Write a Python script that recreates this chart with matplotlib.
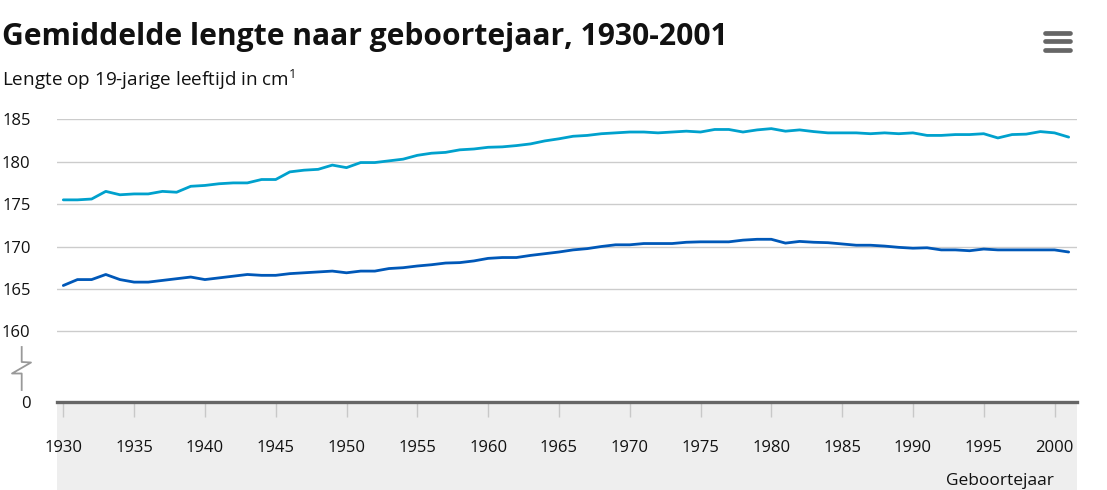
import matplotlib
matplotlib.use("Agg")
import matplotlib.pyplot as plt
from matplotlib.lines import Line2D
from matplotlib.patches import Rectangle

plt.rcParams['font.family'] = ['Open Sans', 'DejaVu Sans']
plt.rcParams['mathtext.default'] = 'regular'

years = list(range(1930, 2002))

# lengte op 19-jarige leeftijd (cm)
mannen = [
    175.5, 175.5, 175.6, 176.5, 176.1, 176.2, 176.2, 176.5, 176.4, 177.1,
    177.2, 177.4, 177.5, 177.5, 177.9, 177.9, 178.8, 179.0, 179.1, 179.6,
    179.3, 179.9, 179.9, 180.1, 180.3, 180.75, 181.0, 181.1, 181.4, 181.5,
    181.7, 181.75, 181.9, 182.1, 182.45, 182.7, 183.0, 183.1, 183.3, 183.4,
    183.5, 183.5, 183.4, 183.5, 183.6, 183.5, 183.8, 183.8, 183.5, 183.75,
    183.9, 183.6, 183.75, 183.55, 183.4, 183.4, 183.4, 183.3, 183.4, 183.3,
    183.4, 183.1, 183.1, 183.2, 183.2, 183.3, 182.8, 183.2, 183.25, 183.55,
    183.4, 182.9,
]
vrouwen = [
    165.4, 166.1, 166.1, 166.7, 166.1, 165.8, 165.8, 166.0, 166.2, 166.4,
    166.1, 166.3, 166.5, 166.7, 166.6, 166.6, 166.8, 166.9, 167.0, 167.1,
    166.9, 167.1, 167.1, 167.4, 167.5, 167.7, 167.85, 168.05, 168.1, 168.3,
    168.6, 168.7, 168.7, 168.95, 169.15, 169.35, 169.6, 169.75, 170.0, 170.2,
    170.2, 170.35, 170.35, 170.35, 170.5, 170.55, 170.55, 170.55, 170.75, 170.85,
    170.85, 170.4, 170.6, 170.5, 170.45, 170.3, 170.15, 170.15, 170.05, 169.9,
    169.8, 169.85, 169.6, 169.6, 169.5, 169.7, 169.6, 169.6, 169.6, 169.6,
    169.6, 169.35,
]

y_ticks = [160, 165, 170, 175, 180, 185]
x_ticks = list(range(1930, 2001, 5))

W, H = 1107, 490
fig = plt.figure(figsize=(W / 100, H / 100), dpi=100)

# grijze band onder de x-as
fig.patches.append(Rectangle((57 / W, 0), 1020 / W, 88 / H, transform=fig.transFigure,
                             facecolor='#eeeeee', edgecolor='none', zorder=-1))

ax = fig.add_axes([57 / W, 88 / H, 1020 / W, (402 - 119.3) / H])
ax.set_facecolor('none')
ax.set_zorder(1)

ax.plot(years, mannen, color='#00a1cd', lw=2.0, solid_capstyle='round', zorder=3)
ax.plot(years, vrouwen, color='#0058b8', lw=2.0, solid_capstyle='round', zorder=3)

# y-as met breuk: 0 komt direct onder 160
ybottom = 160 - (402 - 331.3) / 8.48
ax.set_ylim(ybottom, 185)
ax.set_xlim(1930 - 6.3 / 14.16, 1930 + 1013.7 / 14.16)

for v in y_ticks:
    ax.axhline(v, color='#cccccc', lw=1.0, zorder=1)

ax.set_yticks(y_ticks + [ybottom])
ax.set_yticklabels([str(v) for v in y_ticks] + ['0'])
ax.tick_params(axis='y', length=0, pad=19, labelsize=12, labelcolor='#111111')

ax.set_xticks(x_ticks)
ax.tick_params(axis='x', length=11, width=1, color='#c8c8c8', pad=16,
               labelsize=12, labelcolor='#111111')

for s in ['top', 'right', 'left']:
    ax.spines[s].set_visible(False)
ax.spines['bottom'].set_color('#666666')
ax.spines['bottom'].set_linewidth(2.4)
ax.spines['bottom'].set_zorder(4)

# asbreuk-teken
bx = [21.7, 21.7, 31, 12, 21.7, 21.7]
by = [347, 362, 362.5, 373.5, 373.5, 390]
fig.add_artist(Line2D([x / W for x in bx], [1 - y / H for y in by], transform=fig.transFigure,
                      color='#999999', lw=1.3))

# menu-icoon
for yy in [33, 41.5, 50]:
    fig.add_artist(Line2D([1044.5 / W, 1070 / W], [1 - yy / H] * 2, transform=fig.transFigure,
                          color='#666666', lw=3.4, solid_capstyle='round'))

fig.text(2 / W, 1 - 37 / H, 'Gemiddelde lengte naar geboortejaar, 1930-2001',
         fontsize=21.6, fontweight='bold', color='#111111', va='center', ha='left')
fig.text(2 / W, 1 - 80 / H, 'Lengte op 19-jarige leeftijd in cm$^{1}$',
         fontsize=13.6, color='#111111', va='center', ha='left')
fig.text(1054 / W, 1 - 481 / H, 'Geboortejaar', fontsize=12.5, color='#111111',
         va='center', ha='right')

fig.savefig('out.png', dpi=100)
